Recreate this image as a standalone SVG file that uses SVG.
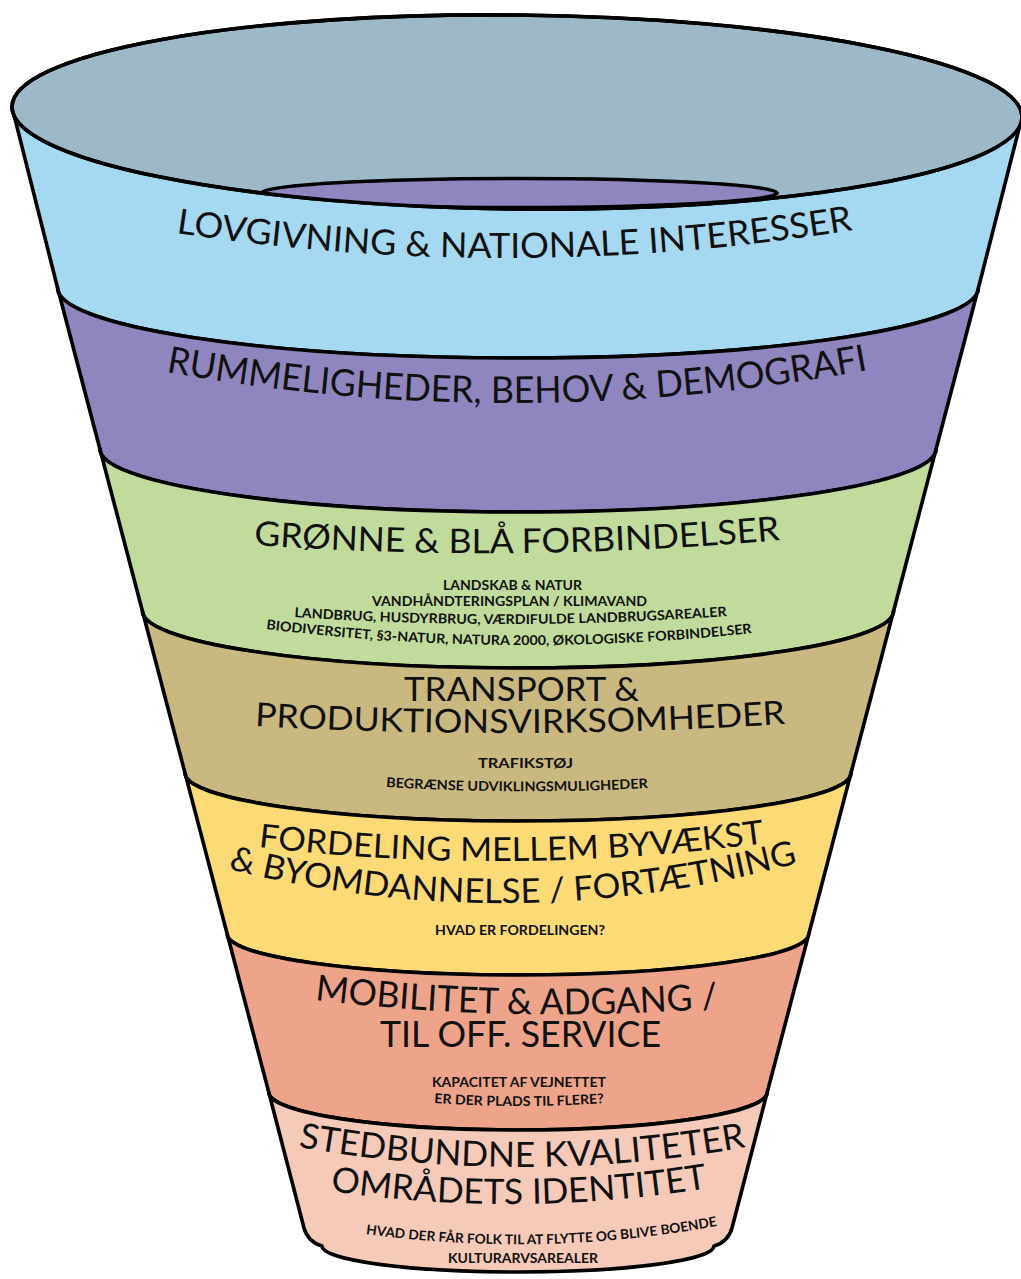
<svg xmlns="http://www.w3.org/2000/svg" xmlns:xlink="http://www.w3.org/1999/xlink" width="1021" height="1279" viewBox="0 0 1021 1279">
  <style>
    .band { stroke: #000; stroke-width: 3.6; stroke-linejoin: round; }
    .title { font-family: Lato, "Open Sans", "Liberation Sans", sans-serif; font-weight: 400; fill: #111; }
    .sub { font-family: Lato, "Open Sans", "Liberation Sans", sans-serif; font-weight: 700; fill: #111; font-size: 13.5px; }
  </style>
  <defs>
    <!-- baselines for the curved labels -->
    <path id="p-lov" d="M176,233 Q514.5,284.5 853,230"/>
    <path id="p-rum" d="M166,372 Q517,435 868,370"/>
    <path id="p-gron" d="M254,545 Q517,563.5 780,540"/>
    <path id="p-landbrug" d="M294,617 Q510.5,631.5 727,616"/>
    <path id="p-bio" d="M266,629 Q509,659 752,633"/>
    <path id="p-prod" d="M255,726 Q520,741 785,724"/>
    <path id="p-begr" d="M386,787 Q517,795 648,788"/>
    <path id="p-ford1" d="M258,847 Q511.5,877 765,843"/>
    <path id="p-ford2" d="M228,869 Q513,940 798,863"/>
    <path id="p-mob" d="M315,1000 Q516,1024 718,1008"/>
    <path id="p-plads" d="M434,1103 Q519,1109 604,1103"/>
    <path id="p-sted" d="M298,1147 Q522,1187 746,1147"/>
    <path id="p-omr" d="M330,1191 Q519,1218.5 708,1188"/>
    <path id="p-hvad" d="M366,1234 Q541.5,1258 717,1226"/>
    <clipPath id="rim-clip">
      <ellipse cx="517" cy="112" rx="505" ry="97" transform="rotate(0.6 517 112)"/>
    </clipPath>
  </defs>

  <!-- funnel layers, top to bottom -->
  <g id="layer-lovgivning">
    <path class="band" fill="#A5D9F1" d="M12,107 L57.6,288 A460.4,70 0 0 0 978.4,288 L1022,117 Z"/>
    <text class="title" font-size="35"><textPath xlink:href="#p-lov" startOffset="50%" text-anchor="middle" textLength="680" lengthAdjust="spacingAndGlyphs">LOVGIVNING &amp; NATIONALE INTERESSER</textPath></text>
  </g>

  <g id="layer-rummeligheder">
    <path class="band" fill="#8F86BF" d="M57.6,288 A460.4,70 0 0 0 978.4,288 L936.1,449 A418.1,63 0 0 1 99.9,449 Z"/>
    <text class="title" font-size="37"><textPath xlink:href="#p-rum" startOffset="50%" text-anchor="middle" textLength="706" lengthAdjust="spacingAndGlyphs">RUMMELIGHEDER, BEHOV &amp; DEMOGRAFI</textPath></text>
  </g>

  <g id="layer-groenne-blaa">
    <path class="band" fill="#C0DB9C" d="M99.9,449 A418.1,63 0 0 0 936.1,449 L893.6,611 A375.6,57 0 0 1 142.4,611 Z"/>
    <text class="title" font-size="34"><textPath xlink:href="#p-gron" startOffset="50%" text-anchor="middle" textLength="527" lengthAdjust="spacingAndGlyphs">GRØNNE &amp; BLÅ FORBINDELSER</textPath></text>
    <text class="sub" x="512.5" y="590" text-anchor="middle" textLength="139" lengthAdjust="spacingAndGlyphs">LANDSKAB &amp; NATUR</text>
    <text class="sub" x="509.5" y="606" text-anchor="middle" textLength="275" lengthAdjust="spacingAndGlyphs">VANDHÅNDTERINGSPLAN / KLIMAVAND</text>
    <text class="sub"><textPath xlink:href="#p-landbrug" startOffset="50%" text-anchor="middle" textLength="433" lengthAdjust="spacingAndGlyphs">LANDBRUG, HUSDYRBRUG, VÆRDIFULDE LANDBRUGSAREALER</textPath></text>
    <text class="sub"><textPath xlink:href="#p-bio" startOffset="50%" text-anchor="middle" textLength="487" lengthAdjust="spacingAndGlyphs">BIODIVERSITET, §3-NATUR, NATURA 2000, ØKOLOGISKE FORBINDELSER</textPath></text>
  </g>

  <g id="layer-transport">
    <path class="band" fill="#C9B87F" d="M142.4,611 A375.6,57 0 0 0 893.6,611 L851,773 A333,48 0 0 1 185,773 Z"/>
    <text class="title" font-size="33" x="521.5" y="701" text-anchor="middle" textLength="235" lengthAdjust="spacingAndGlyphs">TRANSPORT &amp;</text>
    <text class="title" font-size="33"><textPath xlink:href="#p-prod" startOffset="50%" text-anchor="middle" textLength="531" lengthAdjust="spacingAndGlyphs">PRODUKTIONSVIRKSOMHEDER</textPath></text>
    <text class="sub" x="525.5" y="768" text-anchor="middle" textLength="95" lengthAdjust="spacingAndGlyphs">TRAFIKSTØJ</text>
    <text class="sub"><textPath xlink:href="#p-begr" startOffset="50%" text-anchor="middle" textLength="262" lengthAdjust="spacingAndGlyphs">BEGRÆNSE UDVIKLINGSMULIGHEDER</textPath></text>
  </g>

  <g id="layer-fordeling">
    <path class="band" fill="#FCDA76" d="M185,773 A333,48 0 0 0 851,773 L808.8,934 A290.8,41 0 0 1 227.2,934 Z"/>
    <text class="title" font-size="33"><textPath xlink:href="#p-ford1" startOffset="50%" text-anchor="middle" textLength="508" lengthAdjust="spacingAndGlyphs">FORDELING MELLEM BYVÆKST</textPath></text>
    <text class="title" font-size="34"><textPath xlink:href="#p-ford2" startOffset="50%" text-anchor="middle" textLength="576" lengthAdjust="spacingAndGlyphs">&amp; BYOMDANNELSE / FORTÆTNING</textPath></text>
    <text class="sub" x="520" y="935" text-anchor="middle" textLength="170" lengthAdjust="spacingAndGlyphs">HVAD ER FORDELINGEN?</text>
  </g>

  <g id="layer-mobilitet">
    <path class="band" fill="#EDA48B" d="M227.2,934 A290.8,41 0 0 0 808.8,934 L767.3,1092 A249.3,38 0 0 1 268.7,1092 Z"/>
    <text class="title" font-size="36"><textPath xlink:href="#p-mob" startOffset="50%" text-anchor="middle" textLength="404" lengthAdjust="spacingAndGlyphs">MOBILITET &amp; ADGANG /</textPath></text>
    <text class="title" font-size="37" x="520.5" y="1047" text-anchor="middle" textLength="281" lengthAdjust="spacingAndGlyphs">TIL OFF. SERVICE</text>
    <text class="sub" x="519" y="1087" text-anchor="middle" textLength="174" lengthAdjust="spacingAndGlyphs">KAPACITET AF VEJNETTET</text>
    <text class="sub"><textPath xlink:href="#p-plads" startOffset="50%" text-anchor="middle" textLength="170" lengthAdjust="spacingAndGlyphs">ER DER PLADS TIL FLERE?</textPath></text>
  </g>

  <g id="layer-stedbundne">
    <path class="band" fill="#F6CAB9" d="M268.7,1092 A249.3,38 0 0 0 767.3,1092 L732,1228 Q728,1242 714,1246 A196,26 0 0 1 322,1246 Q308,1242 304,1228 Z"/>
    <text class="title" font-size="35"><textPath xlink:href="#p-sted" startOffset="50%" text-anchor="middle" textLength="450" lengthAdjust="spacingAndGlyphs">STEDBUNDNE KVALITETER</textPath></text>
    <text class="title" font-size="35"><textPath xlink:href="#p-omr" startOffset="50%" text-anchor="middle" textLength="379" lengthAdjust="spacingAndGlyphs">OMRÅDETS IDENTITET</textPath></text>
    <text class="sub"><textPath xlink:href="#p-hvad" startOffset="50%" text-anchor="middle" textLength="353" lengthAdjust="spacingAndGlyphs">HVAD DER FÅR FOLK TIL AT FLYTTE OG BLIVE BOENDE</textPath></text>
    <text class="sub" x="523" y="1263" text-anchor="middle" textLength="150" lengthAdjust="spacingAndGlyphs">KULTURARVSAREALER</text>
  </g>

  <!-- open rim of the funnel with the inner opening -->
  <g id="rim">
    <ellipse class="band" fill="#9DB9C8" cx="517" cy="112" rx="505" ry="97" transform="rotate(0.6 517 112)"/>
    <ellipse class="band" fill="#8F86BF" cx="519" cy="193" rx="258" ry="14.5" clip-path="url(#rim-clip)"/>
    <ellipse fill="none" stroke="#000" stroke-width="3.6" cx="517" cy="112" rx="505" ry="97" transform="rotate(0.6 517 112)"/>
  </g>
</svg>
